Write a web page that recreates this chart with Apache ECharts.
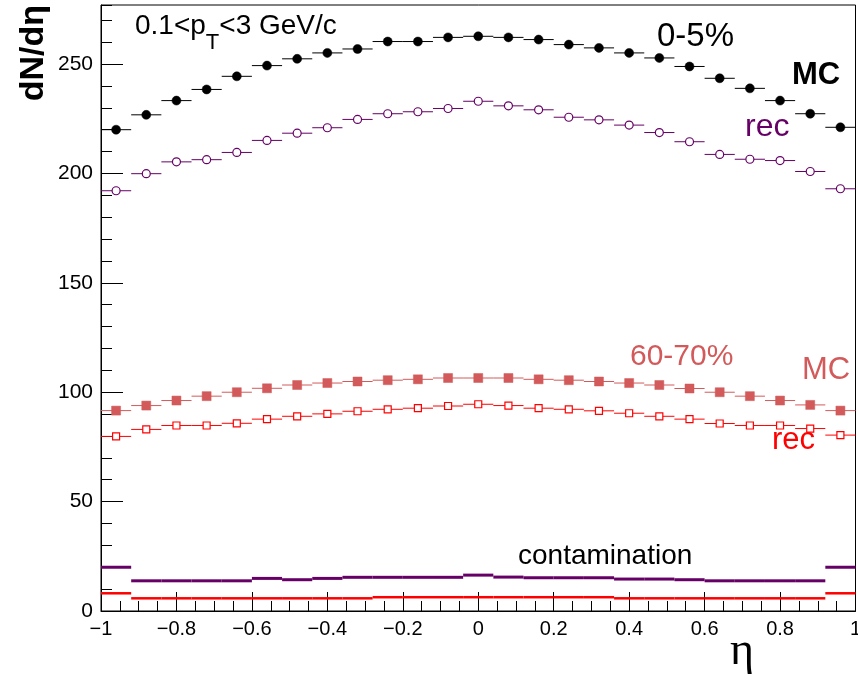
<!DOCTYPE html>
<html><head><meta charset="utf-8">
<script src="https://cdn.jsdelivr.net/npm/echarts@6/dist/echarts.min.js"></script>
<style>html,body{margin:0;padding:0;background:#fff;overflow:hidden}#c{width:858px;height:687px}</style>
</head><body><div id="c"></div>
<script>
// ---- data ----
const etaCenters = [-0.96,-0.88,-0.80,-0.72,-0.64,-0.56,-0.48,-0.40,-0.32,-0.24,-0.16,-0.08,0.00,0.08,0.16,0.24,0.32,0.40,0.48,0.56,0.64,0.72,0.80,0.88,0.96];
const etaBinWidth = 0.08;
const mcCentral  = [220.0,226.8,233.3,238.4,244.4,249.3,252.4,255.1,256.9,260.3,260.3,262.2,262.7,262.2,261.2,258.9,257.4,255.1,252.8,248.9,243.5,238.9,233.3,227.3,221.1];
const recCentral = [192.1,199.9,205.3,206.3,209.6,215.1,218.4,220.9,224.7,227.3,228.2,229.7,233.0,230.9,229.1,225.7,224.5,222.1,218.7,214.5,208.7,206.5,205.9,200.9,193.0];
const mcPeripheral  = [91.6,93.9,96.2,98.2,100.0,101.8,103.3,104.2,104.9,105.5,105.9,106.5,106.5,106.5,105.9,105.5,104.9,104.2,103.3,101.7,100.0,98.2,96.2,94.2,91.6];
const recPeripheral = [79.8,83.0,84.8,84.8,85.8,87.7,89.0,90.1,91.3,92.2,92.7,93.7,94.5,93.9,92.7,92.2,91.5,90.4,89.0,87.7,85.7,84.8,84.8,83.4,80.4];
const contamCentral    = [20.0,13.8,13.8,13.8,13.8,14.9,14.3,14.9,15.4,15.4,15.4,15.4,16.4,15.5,15.2,15.2,15.2,14.6,14.6,14.3,13.8,13.8,13.8,13.8,20.0];
const contamPeripheral = [8.1,5.8,5.8,5.8,5.8,5.8,5.8,5.8,5.8,6.3,6.3,6.3,6.3,6.3,6.3,6.3,6.3,5.8,5.8,5.8,5.8,5.8,5.8,5.8,8.1];
const xRange = [-1, 1];
const yRange = [0, 277];

const FONT = '"Liberation Sans", Arial, Helvetica, sans-serif';

function binSeries(values, o) {
  return {
    type: 'custom',
    xAxisIndex: 0, yAxisIndex: 0,
    z: o.z || 2,
    data: values.map((v, i) => [etaCenters[i], v]),
    encode: { x: 0, y: 1 },
    renderItem: function (params, api) {
      const x = api.value(0), y = api.value(1);
      const a = api.coord([x - etaBinWidth / 2, y]);
      const b = api.coord([x + etaBinWidth / 2, y]);
      const c = api.coord([x, y]);
      const ch = [{ type: 'line', shape: { x1: a[0], y1: a[1], x2: b[0], y2: b[1] },
        style: { stroke: o.lineColor, lineWidth: o.lineWidth } }];
      if (o.marker === 'circle') {
        ch.push({ type: 'circle', shape: { cx: c[0], cy: c[1], r: o.size / 2 },
          style: { fill: o.fill, stroke: o.color, lineWidth: o.strokeWidth } });
      } else if (o.marker === 'square') {
        const s = o.size;
        ch.push({ type: 'rect', shape: { x: c[0] - s / 2, y: c[1] - s / 2, width: s, height: s },
          style: { fill: o.fill, stroke: o.color, lineWidth: o.strokeWidth } });
      }
      return { type: 'group', children: ch };
    }
  };
}

// measure for sub-script layout of the pT label
const mctx = document.createElement('canvas').getContext('2d');
function tw(text, font) { mctx.font = font; return mctx.measureText(text).width; }
const f28 = '28px ' + FONT, f22 = '22px ' + FONT;
const ptX0 = 135;
const ptX1 = ptX0 + tw('0.1<p', f28);
const ptX2 = ptX1 + tw('T', f22);

function txt(text, x, y, size, color, extra) {
  return Object.assign({ type: 'text', z: 10, style: Object.assign({
    text: text, x: x, y: y, fill: color, fontSize: size, fontFamily: FONT,
    textAlign: 'left', textVerticalAlign: 'middle' }, extra || {}) });
}

const chart = echarts.init(document.getElementById('c'), null, { renderer: 'canvas', width: 858, height: 687 });
const tickLbl = { color: '#000', fontFamily: FONT };
chart.setOption({
  animation: false,
  backgroundColor: '#fff',
  grid: { left: 101, right: 2.5, top: 5, bottom: 76, show: true, borderColor: '#000', borderWidth: 1,
    backgroundColor: 'transparent', containLabel: false, outerBoundsMode: 'none' },
  xAxis: [
    { type: 'value', min: xRange[0], max: xRange[1], interval: 0.2, position: 'bottom',
      axisLine: { onZero: false, lineStyle: { color: '#000', width: 1 } },
      axisTick: { inside: true, length: 19, lineStyle: { color: '#000' } },
      splitLine: { show: false },
      axisLabel: Object.assign({ fontSize: 20, margin: 8,
        formatter: v => (Math.abs(v) < 1e-9 ? '0' : String(+v.toFixed(1)).replace('-', '\u2212')) }, tickLbl) },
    { type: 'value', min: xRange[0], max: xRange[1], interval: 0.05, position: 'bottom',
      axisLine: { show: false, onZero: false },
      axisTick: { inside: true, length: 10, lineStyle: { color: '#000' } },
      splitLine: { show: false }, axisLabel: { show: false } }
  ],
  yAxis: [
    { type: 'value', min: yRange[0], max: yRange[1], interval: 50, position: 'left',
      axisLine: { show: true, onZero: false, lineStyle: { color: '#000', width: 1 } },
      axisTick: { show: true, inside: true, length: 22, lineStyle: { color: '#000' } },
      splitLine: { show: false },
      axisLabel: Object.assign({ fontSize: 21, margin: 8, showMaxLabel: false }, tickLbl) },
    { type: 'value', min: yRange[0], max: yRange[1], interval: 10, position: 'left',
      axisLine: { show: false, onZero: false },
      axisTick: { show: true, inside: true, length: 11, lineStyle: { color: '#000' } },
      splitLine: { show: false }, axisLabel: { show: false } }
  ],
  series: [
    binSeries(contamCentral, { lineColor: '#660066', lineWidth: 3 }),
    binSeries(contamPeripheral, { lineColor: '#ff0000', lineWidth: 2.5 }),
    binSeries(mcCentral, { lineColor: '#000', lineWidth: 1, marker: 'circle', size: 9, fill: '#000', color: '#000', strokeWidth: 0.5, z: 3 }),
    binSeries(recCentral, { lineColor: '#660066', lineWidth: 1, marker: 'circle', size: 8, fill: '#fff', color: '#660066', strokeWidth: 1.2, z: 3 }),
    binSeries(mcPeripheral, { lineColor: '#d35a5a', lineWidth: 1, marker: 'square', size: 9, fill: '#d35a5a', color: '#d35a5a', strokeWidth: 0.5, z: 3 }),
    binSeries(recPeripheral, { lineColor: '#ff0000', lineWidth: 1, marker: 'square', size: 7, fill: '#fff', color: '#ff0000', strokeWidth: 1.2, z: 3 })
  ],
  graphic: [
    txt('0.1<p', ptX0, 26, 28, '#000'),
    txt('T', ptX1, 43, 22, '#000'),
    txt('<3 GeV/c', ptX2, 26, 28, '#000'),
    txt('0-5%', 657, 37, 33, '#000'),
    txt('MC', 792, 75, 31, '#000', { fontWeight: 'bold' }),
    txt('rec', 745, 127, 32, '#660066'),
    txt('60-70%', 630, 357, 30, '#d35a5a'),
    txt('MC', 802, 370, 31, '#d35a5a'),
    txt('rec', 772, 440, 31, '#ff0000'),
    txt('contamination', 518, 556, 28, '#000'),
    txt('\u03b7', 730, 652, 46, '#000', { fontFamily: '"Liberation Serif", "DejaVu Serif", serif' }),
    { type: 'text', z: 10, x: 34, y: 5, rotation: Math.PI / 2,
      style: { text: 'dN/d\u03b7', x: 0, y: 0, fill: '#000', fontSize: 34, fontWeight: 'bold', fontFamily: FONT,
        textAlign: 'right', textVerticalAlign: 'middle' } }
  ]
});
</script>
</body></html>
